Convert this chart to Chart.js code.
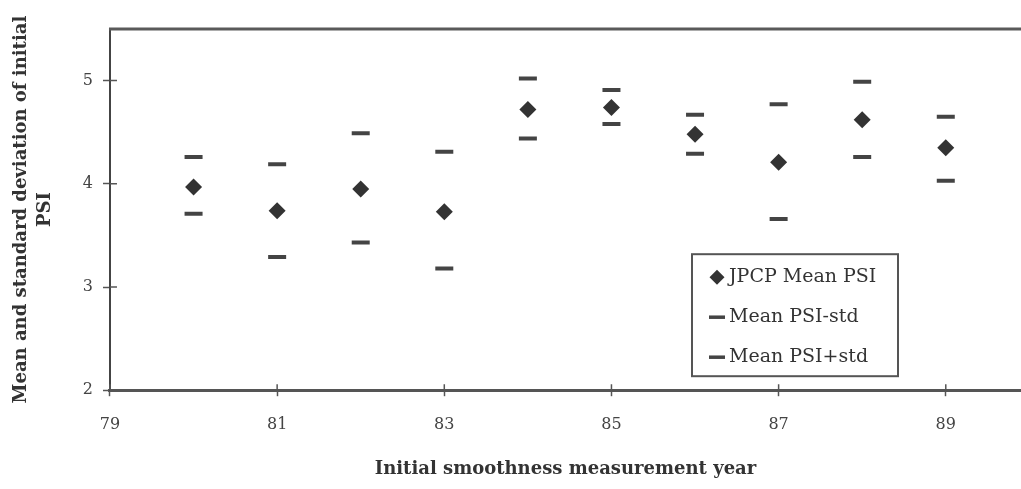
<!DOCTYPE html>
<html>
<head>
<meta charset="utf-8">
<script src="https://cdn.jsdelivr.net/npm/chart.js@4.4.1/dist/chart.umd.min.js"></script>
<style>
  body { margin: 0; background: #fff; }
  #wrap { width: 1021px; height: 489px; }
</style>
</head>
<body>
<div id="wrap"><canvas id="psi-chart" width="1021" height="489"></canvas></div>
<script>
// values
var years = [80, 81, 82, 83, 84, 85, 86, 87, 88, 89];
var meanPSI = [3.97, 3.74, 3.95, 3.73, 4.72, 4.74, 4.48, 4.21, 4.62, 4.35];
var meanMinusStd = [3.71, 3.29, 3.43, 3.18, 4.44, 4.58, 4.29, 3.66, 4.26, 4.03];
var meanPlusStd = [4.26, 4.19, 4.49, 4.31, 5.02, 4.91, 4.67, 4.77, 4.99, 4.65];
var xTicks = [79, 81, 83, 85, 87, 89];
var yTicks = [2, 3, 4, 5];
var seriesNames = ["JPCP Mean PSI", "Mean PSI-std", "Mean PSI+std"];

function pts(vals) {
  return years.map(function (yr, i) { return { x: yr, y: vals[i] }; });
}

var serif = "'DejaVu Serif', serif";

// top frame line, inner half of the tick marks and the boxed legend
var framePlugin = {
  id: 'framePlugin',
  afterDraw: function (chart) {
    var ctx = chart.ctx, a = chart.chartArea, sx = chart.scales.x, sy = chart.scales.y;
    ctx.save();
    ctx.strokeStyle = '#5a5a5a';
    ctx.lineWidth = 3;
    ctx.beginPath();
    ctx.moveTo(a.left - 1, a.top);
    ctx.lineTo(a.right, a.top);
    ctx.stroke();

    ctx.lineWidth = 1.5;
    ctx.strokeStyle = '#555';
    ctx.beginPath();
    sx.ticks.forEach(function (t) {
      var px = sx.getPixelForValue(t.value);
      ctx.moveTo(px, a.bottom);
      ctx.lineTo(px, a.bottom - 6);
    });
    sy.ticks.forEach(function (t) {
      var py = sy.getPixelForValue(t.value);
      ctx.moveTo(a.left, py);
      ctx.lineTo(a.left + 7, py);
    });
    ctx.stroke();

    // legend
    var bx = a.right - 329, by = a.bottom - 136, bw = 206, bh = 122;
    ctx.fillStyle = '#fff';
    ctx.fillRect(bx, by, bw, bh);
    ctx.strokeStyle = '#555';
    ctx.lineWidth = 2;
    ctx.strokeRect(bx, by, bw, bh);
    ctx.font = '19px ' + serif;
    ctx.textBaseline = 'middle';
    chart.data.datasets.forEach(function (ds, i) {
      var cy = by + 23 + i * 40;
      var mx = bx + 25;
      ctx.fillStyle = ds.backgroundColor;
      ctx.strokeStyle = ds.borderColor;
      if (ds.pointStyle === 'rectRot') {
        ctx.beginPath();
        ctx.moveTo(mx, cy - 7.5);
        ctx.lineTo(mx + 7.5, cy);
        ctx.lineTo(mx, cy + 7.5);
        ctx.lineTo(mx - 7.5, cy);
        ctx.closePath();
        ctx.fill();
      } else {
        ctx.lineWidth = 3.5;
        ctx.beginPath();
        ctx.moveTo(mx - 8, cy);
        ctx.lineTo(mx + 8, cy);
        ctx.stroke();
      }
      ctx.fillStyle = '#333';
      ctx.fillText(ds.label, bx + 37, cy);
    });
    ctx.restore();
  }
};

new Chart(document.getElementById("psi-chart"), {
  type: 'scatter',
  data: {
    datasets: [
      {
        label: seriesNames[0],
        data: pts(meanPSI),
        pointStyle: 'rectRot',
        pointRadius: 8.5,
        pointHoverRadius: 8.5,
        backgroundColor: '#333',
        borderColor: '#333',
        borderWidth: 0
      },
      {
        label: seriesNames[1],
        data: pts(meanMinusStd),
        pointStyle: 'line',
        pointRadius: 9,
        pointHoverRadius: 9,
        backgroundColor: '#444',
        borderColor: '#444',
        borderWidth: 4
      },
      {
        label: seriesNames[2],
        data: pts(meanPlusStd),
        pointStyle: 'line',
        pointRadius: 9,
        pointHoverRadius: 9,
        backgroundColor: '#444',
        borderColor: '#444',
        borderWidth: 4
      }
    ]
  },
  options: {
    responsive: false,
    animation: false,
    layout: { autoPadding: false, padding: { top: 29, right: 0, bottom: 9, left: 10 } },
    plugins: {
      legend: { display: false },
      tooltip: { enabled: false }
    },
    scales: {
      x: {
        type: 'linear',
        min: 79,
        max: 89.9,
        afterBuildTicks: function (scale) {
          scale.ticks = xTicks.map(function (v) { return { value: v }; });
        },
        border: { display: true, color: '#555', width: 3 },
        grid: { drawOnChartArea: false, drawTicks: true, tickLength: 6, tickWidth: 1.5, tickColor: '#555' },
        ticks: { color: '#444', padding: 19, maxRotation: 0, font: { family: serif, size: 16 } },
        title: {
          display: true,
          text: 'Initial smoothness measurement year',
          color: '#333',
          padding: { top: 5, bottom: 0 },
          font: { family: serif, size: 18, weight: 'bold' }
        }
      },
      y: {
        type: 'linear',
        min: 2,
        max: 5.5,
        afterBuildTicks: function (scale) {
          scale.ticks = yTicks.map(function (v) { return { value: v }; });
        },
        border: { display: true, color: '#444', width: 2 },
        grid: { drawOnChartArea: false, drawTicks: true, tickLength: 7, tickWidth: 1.5, tickColor: '#555' },
        ticks: { color: '#444', padding: 10, font: { family: serif, size: 16 } },
        title: {
          display: true,
          text: ['Mean and standard deviation of initial', 'PSI'],
          color: '#333',
          padding: { top: 0, bottom: 16 },
          font: { family: serif, size: 18, weight: 'bold', lineHeight: 1.3 }
        }
      }
    }
  },
  plugins: [framePlugin]
});
</script>
</body>
</html>
